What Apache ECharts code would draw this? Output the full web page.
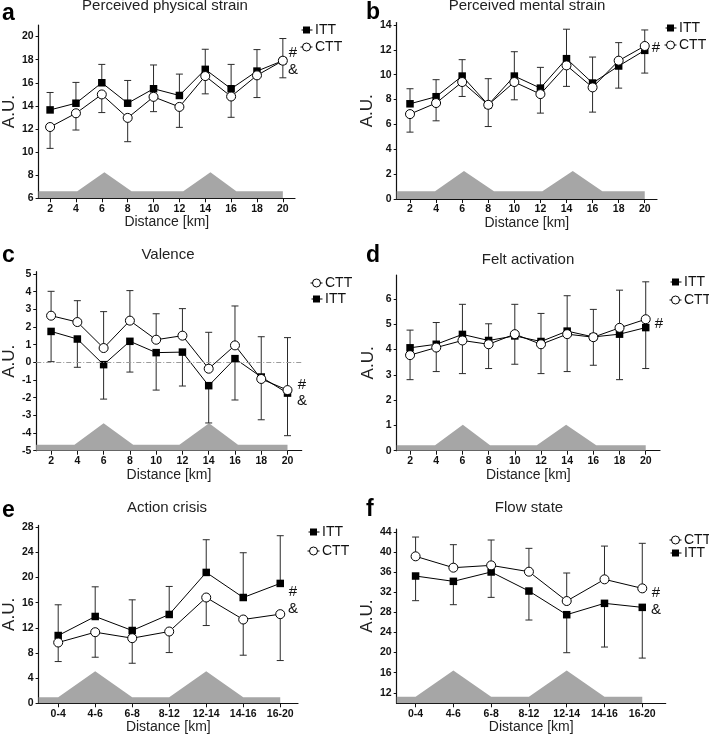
<!DOCTYPE html>
<html><head><meta charset="utf-8">
<script src="https://cdn.jsdelivr.net/npm/echarts@6/dist/echarts.min.js"></script>
<style>html,body{margin:0;padding:0;background:#fff}#c{width:709px;height:740px}</style>
</head><body><div id="c"></div>
<script>
// ---------- categories / ticks ----------
const kmX = [2, 4, 6, 8, 10, 12, 14, 16, 18, 20];
const segX = [0, 1, 2, 3, 4, 5, 6];
const segLabels = ['0-4', '4-6', '6-8', '8-12', '12-14', '14-16', '16-20'];

const ticksA = [6, 8, 10, 12, 14, 16, 18, 20];
const ticksB = [0, 2, 4, 6, 8, 10, 12, 14];
const ticksC = [-5, -4, -3, -2, -1, 0, 1, 2, 3, 4, 5];
const ticksD = [0, 1, 2, 3, 4, 5, 6];
const ticksE = [0, 4, 8, 12, 16, 20, 24, 28];
const ticksF = [12, 16, 20, 24, 28, 32, 36, 40, 44];

// ---------- a: Perceived physical strain ----------
const physITT = [13.65, 14.23, 16.0, 14.23, 15.48, 14.9, 17.16, 15.48, 17.01, 17.91];
const physCTT = [12.17, 13.36, 14.99, 12.96, 14.78, 13.91, 16.58, 14.81, 16.64, 17.91];
const physITTup = [15.16, 16.03, 17.59, 16.2, 17.54, 16.75, 18.9, 17.59, 18.87, 19.83];
const physCTTlo = [10.32, 11.91, 13.42, 10.9, 13.5, 12.14, 15.04, 13.01, 14.72, 16.43];

// ---------- b: Perceived mental strain ----------
const mentITT = [7.66, 8.23, 9.89, 7.58, 9.89, 8.92, 11.29, 9.33, 10.7, 11.96];
const mentCTT = [6.83, 7.72, 9.41, 7.58, 9.41, 8.44, 10.75, 8.98, 11.13, 12.31];
const mentITTup = [8.87, 9.6, 11.21, 9.68, 11.85, 10.59, 13.66, 11.42, 12.58, 13.6];
const mentCTTlo = [5.38, 6.29, 8.25, 5.83, 7.98, 6.91, 9.06, 6.99, 8.92, 10.13];

// ---------- c: Valence ----------
const valCTT = [2.64, 2.28, 0.81, 2.36, 1.28, 1.51, -0.36, 0.96, -0.94, -1.57];
const valITT = [1.75, 1.32, -0.13, 1.19, 0.55, 0.58, -1.32, 0.21, -0.83, -1.74];
const valCTTup = [4.02, 3.49, 2.87, 4.06, 2.75, 3.04, 1.7, 3.19, 1.45, 1.4];
const valITTlo = [0.04, -0.28, -2.08, -0.55, -1.57, -1.34, -3.43, -2.13, -3.25, -4.15];

// ---------- d: Felt activation ----------
const actITT = [4.07, 4.21, 4.6, 4.36, 4.54, 4.32, 4.73, 4.5, 4.61, 4.87];
const actCTT = [3.78, 4.08, 4.36, 4.21, 4.61, 4.21, 4.61, 4.49, 4.86, 5.2];
const actITTup = [4.77, 5.07, 5.79, 5.02, 5.79, 5.43, 6.13, 5.59, 6.35, 6.68];
const actCTTlo = [2.81, 3.13, 3.05, 3.25, 3.42, 3.05, 3.13, 3.38, 2.81, 3.25];

// ---------- e: Action crisis ----------
const crisisITT = [10.78, 13.81, 11.58, 14.13, 20.82, 16.83, 19.07];
const crisisCTT = [9.67, 11.31, 10.36, 11.42, 16.83, 13.33, 14.18];
const crisisITTup = [15.67, 18.53, 16.46, 18.59, 26.02, 23.95, 26.66];
const crisisCTTlo = [6.64, 7.33, 6.37, 8.07, 12.37, 7.65, 6.8];

// ---------- f: Flow state ----------
const flowCTT = [39.16, 36.9, 37.36, 36.1, 30.26, 34.58, 32.78];
const flowITT = [35.24, 34.18, 36.04, 32.25, 27.54, 29.8, 29.0];
const flowCTTup = [43.0, 41.48, 42.41, 40.75, 35.84, 41.2, 41.75];
const flowITTlo = [30.33, 29.53, 30.99, 26.48, 19.97, 21.1, 18.9];

// ---------- course elevation profile (grey silhouette) ----------
const terrainAX = [1.11, 4.1, 6.2, 8.3, 12.3, 14.4, 16.4, 20];
const terrainAY = [6.61, 6.61, 8.26, 6.61, 6.61, 8.26, 6.61, 6.61];
const terrainBX = [0.98, 3.92, 6.14, 8.44, 12.15, 14.48, 16.75, 20];
const terrainBY = [0.62, 0.62, 2.26, 0.62, 0.62, 2.26, 0.62, 0.62];
const terrainCX = [0.87, 3.78, 6.0, 8.25, 11.77, 14.03, 16.23, 20];
const terrainCY = [-4.66, -4.66, -3.45, -4.66, -4.66, -3.45, -4.66, -4.66];
const terrainDX = [0.98, 3.91, 6.03, 8.11, 11.68, 13.92, 16.22, 20];
const terrainDY = [0.22, 0.22, 1.03, 0.22, 0.22, 1.03, 0.22, 0.22];
const terrainEX = [-0.53, 0, 1, 2, 3, 4, 5, 6];
const terrainEY = [0.96, 0.96, 5.1, 0.96, 0.96, 5.1, 0.96, 0.96];
const terrainFX = [-0.5, 0, 1, 2, 3, 4, 5, 6];
const terrainFY = [11.2, 11.2, 16.45, 11.2, 11.2, 16.45, 11.2, 11.2];

// ================= build =================
const FONT = 'Arial, "Liberation Sans", sans-serif';
const zip = (a, b) => a.map((v, i) => [v, b[i]]);
const zip3 = (a, b, c) => a.map((v, i) => [v, b[i], c[i]]);

const panels = [
  { letter: 'a', title: 'Perceived physical strain', grid: [35, 25, 260, 173.3], xr: [1.11, 20.94], yr: [6, 21],
    x: kmX, seg: false, yt: ticksA, tx: terrainAX, ty: terrainAY,
    itt: physITT, ctt: physCTT, ittErr: physITTup, cttErr: physCTTlo, zero: false },
  { letter: 'b', title: 'Perceived mental strain', grid: [396.7, 22.5, 260.3, 176.5], xr: [0.98, 20.94], yr: [0, 14.2],
    x: kmX, seg: false, yt: ticksB, tx: terrainBX, ty: terrainBY,
    itt: mentITT, ctt: mentCTT, ittErr: mentITTup, cttErr: mentCTTlo, zero: false },
  { letter: 'c', title: 'Valence', grid: [33.3, 271.7, 268.4, 179], xr: [0.87, 21.08], yr: [-5, 5.13],
    x: kmX, seg: false, yt: ticksC, tx: terrainCX, ty: terrainCY,
    itt: valITT, ctt: valCTT, ittErr: valITTlo, cttErr: valCTTup, zero: true },
  { letter: 'd', title: 'Felt activation', grid: [396.7, 275, 263.3, 175.7], xr: [0.98, 21.09], yr: [0, 6.95],
    x: kmX, seg: false, yt: ticksD, tx: terrainDX, ty: terrainDY,
    itt: actITT, ctt: actCTT, ittErr: actITTup, cttErr: actCTTlo, zero: false },
  { letter: 'e', title: 'Action crisis', grid: [33.3, 525.4, 264.7, 177.9], xr: [-0.53, 6.48], yr: [0, 28.3],
    x: segX, seg: true, yt: ticksE, tx: terrainEX, ty: terrainEY,
    itt: crisisITT, ctt: crisisCTT, ittErr: crisisITTup, cttErr: crisisCTTlo, zero: false },
  { letter: 'f', title: 'Flow state', grid: [396.7, 529, 269, 174.3], xr: [-0.5, 6.62], yr: [9.9, 44.6],
    x: segX, seg: true, yt: ticksF, tx: terrainFX, ty: terrainFY,
    itt: flowITT, ctt: flowCTT, ittErr: flowITTlo, cttErr: flowCTTup, zero: false }
];

const grids = [], xAxes = [], yAxes = [], series = [];

function errRender(params, api) {
  const x = api.value(0), m = api.value(1), e = api.value(2);
  const p0 = api.coord([x, m]);
  const p1 = api.coord([x, e]);
  const st = { stroke: '#2a2a2a', lineWidth: 1 };
  return {
    type: 'group',
    children: [
      { type: 'line', shape: { x1: p0[0], y1: p0[1], x2: p1[0], y2: p1[1] }, style: st },
      { type: 'line', shape: { x1: p1[0] - 3.5, y1: p1[1], x2: p1[0] + 3.5, y2: p1[1] }, style: st }
    ]
  };
}

panels.forEach((p, i) => {
  grids.push({ left: p.grid[0], top: p.grid[1], width: p.grid[2], height: p.grid[3], containLabel: false });
  xAxes.push({
    gridIndex: i, type: 'value', min: p.xr[0], max: p.xr[1],
    name: 'Distance [km]', nameLocation: 'middle', nameGap: 17,
    nameTextStyle: { fontFamily: FONT, fontSize: 14, color: '#222' },
    axisLine: { show: true, onZero: false, lineStyle: { color: '#111', width: 1.2 } },
    axisTick: { show: true, length: 4, customValues: p.x, lineStyle: { color: '#111' } },
    axisLabel: { customValues: p.x, margin: 5, fontFamily: FONT, fontSize: 10.5, fontWeight: 'bold', color: '#111',
      formatter: p.seg ? (v => segLabels[Math.round(v)]) : (v => String(v)) },
    splitLine: { show: false }
  });
  yAxes.push({
    gridIndex: i, type: 'value', min: p.yr[0], max: p.yr[1],
    name: 'A.U.', nameLocation: 'middle', nameGap: (p.letter === 'c' || p.letter === 'e') ? 14 : 20,
    nameTextStyle: { fontFamily: FONT, fontSize: 17, color: '#222' },
    axisLine: { show: true, onZero: false, lineStyle: { color: '#111', width: 1.2 } },
    axisTick: { show: true, length: 3, customValues: p.yt, lineStyle: { color: '#111' } },
    axisLabel: { customValues: p.yt, margin: 5, fontFamily: FONT, fontSize: 10.5, fontWeight: 'bold', color: '#111' },
    splitLine: { show: false }
  });
  // terrain
  series.push({
    type: 'line', xAxisIndex: i, yAxisIndex: i, data: zip(p.tx, p.ty), symbol: 'none', silent: true,
    lineStyle: { width: 0, color: '#a6a6a6' }, areaStyle: { color: '#a6a6a6', opacity: 1, origin: 'start' }, z: 1,
    markLine: p.zero ? { silent: true, symbol: ['none', 'none'], label: { show: false },
      lineStyle: { color: '#9a9a9a', width: 1, type: [5, 2, 1, 2] }, data: [{ yAxis: 0 }] } : undefined
  });
  // error bars
  series.push({ type: 'custom', xAxisIndex: i, yAxisIndex: i, renderItem: errRender, silent: true, z: 2,
    encode: { x: 0, y: [1, 2] }, data: zip3(p.x, p.itt, p.ittErr) });
  series.push({ type: 'custom', xAxisIndex: i, yAxisIndex: i, renderItem: errRender, silent: true, z: 2,
    encode: { x: 0, y: [1, 2] }, data: zip3(p.x, p.ctt, p.cttErr) });
  // ITT
  series.push({ name: 'ITT', type: 'line', xAxisIndex: i, yAxisIndex: i, data: zip(p.x, p.itt), z: 3,
    symbol: 'rect', symbolSize: 7.5, showAllSymbol: true,
    lineStyle: { color: '#000', width: 1 }, itemStyle: { color: '#000', borderColor: '#000', borderWidth: 0 } });
  // CTT
  series.push({ name: 'CTT', type: 'line', xAxisIndex: i, yAxisIndex: i, data: zip(p.x, p.ctt), z: 4,
    symbol: 'circle', symbolSize: 9, showAllSymbol: true,
    lineStyle: { color: '#000', width: 1 }, itemStyle: { color: '#fff', borderColor: '#000', borderWidth: 1 } });
});

// ---------- graphics: panel letters, titles, legends, significance marks ----------
const g = [];
function txt(x, y, s, size, opts) {
  g.push(Object.assign({ type: 'text', x: x, y: y, silent: true,
    style: Object.assign({ text: s, fontFamily: FONT, fontSize: size, fill: '#111', textVerticalAlign: 'middle' }, opts || {}) }));
}
function legendITT(x, y) {
  g.push({ type: 'line', silent: true, shape: { x1: x - 5, y1: y, x2: x + 6, y2: y }, style: { stroke: '#000', lineWidth: 1 } });
  g.push({ type: 'rect', silent: true, shape: { x: x - 3.5, y: y - 3.5, width: 7, height: 7 }, style: { fill: '#000' } });
  txt(x + 8.5, y, 'ITT', 14);
}
function legendCTT(x, y) {
  g.push({ type: 'line', silent: true, shape: { x1: x - 6, y1: y, x2: x + 6, y2: y }, style: { stroke: '#000', lineWidth: 1 } });
  g.push({ type: 'circle', silent: true, shape: { cx: x, cy: y, r: 4 }, style: { fill: '#fff', stroke: '#000', lineWidth: 1 } });
  txt(x + 8.5, y, 'CTT', 14);
}

// letters
txt(2, 14, 'a', 23, { fontWeight: 'bold', fill: '#000' });
txt(366, 13, 'b', 23, { fontWeight: 'bold', fill: '#000' });
txt(2, 256, 'c', 23, { fontWeight: 'bold', fill: '#000' });
txt(366, 256, 'd', 23, { fontWeight: 'bold', fill: '#000' });
txt(2, 511, 'e', 23, { fontWeight: 'bold', fill: '#000' });
txt(366, 510, 'f', 23, { fontWeight: 'bold', fill: '#000' });

// titles
txt(165, 6, panels[0].title, 15, { textAlign: 'center', fill: '#222' });
txt(527, 6, panels[1].title, 15, { textAlign: 'center', fill: '#222' });
txt(168, 255, panels[2].title, 15, { textAlign: 'center', fill: '#222' });
txt(528, 260, panels[3].title, 15, { textAlign: 'center', fill: '#222' });
txt(167, 508, panels[4].title, 15, { textAlign: 'center', fill: '#222' });
txt(529, 508, panels[5].title, 15, { textAlign: 'center', fill: '#222' });

// legends
legendITT(306.5, 30); legendCTT(306.5, 47);
legendITT(670.5, 28); legendCTT(670.5, 45);
legendCTT(316.5, 283); legendITT(316.5, 299);
legendITT(675.5, 282); legendCTT(675.5, 300);
legendITT(313.5, 532); legendCTT(313.5, 551);
legendCTT(675.5, 540); legendITT(675.5, 553);

// significance marks
txt(293, 53, '#', 15, { textAlign: 'center' }); txt(293, 70, '&', 15, { textAlign: 'center' });
txt(656, 48, '#', 15, { textAlign: 'center' });
txt(302, 385, '#', 15, { textAlign: 'center' }); txt(302, 401, '&', 15, { textAlign: 'center' });
txt(659, 324, '#', 15, { textAlign: 'center' });
txt(293, 592, '#', 15, { textAlign: 'center' }); txt(293, 609, '&', 15, { textAlign: 'center' });
txt(656, 593, '#', 15, { textAlign: 'center' }); txt(656, 610, '&', 15, { textAlign: 'center' });

const chart = echarts.init(document.getElementById('c'), null, { renderer: 'canvas' });
chart.setOption({
  animation: false,
  backgroundColor: '#fff',
  grid: grids, xAxis: xAxes, yAxis: yAxes, series: series, graphic: g
});
</script>
</body></html>
